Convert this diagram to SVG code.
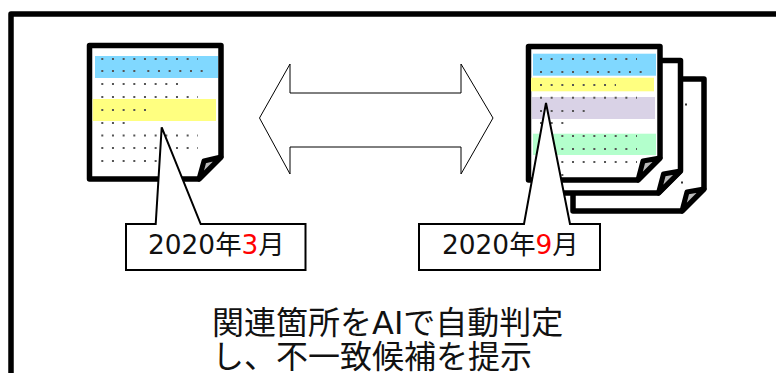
<svg xmlns="http://www.w3.org/2000/svg" width="776" height="373" viewBox="0 0 776 373">
<style>
.page{fill:#fff;stroke:#000;stroke-width:5.5;stroke-linejoin:round}
.fold{fill:#bbb;stroke:#000;stroke-width:5;stroke-linejoin:round}
.dots{stroke:#555;stroke-width:2;stroke-dasharray:2 8.67;fill:none}
.call{fill:#fff;stroke:#000;stroke-width:2;stroke-linejoin:miter}
text{font-family:"DejaVu Sans","Noto Sans CJK JP",sans-serif;fill:#111}
.lab{font-size:26.400px}
.big{font-size:32px}
.red{fill:#f00}
</style>
<rect width="776" height="373" fill="#fff"/>
<path id="frame" d="M11 373V14H776" fill="none" stroke="#000" stroke-width="5.500" stroke-linejoin="round"/>

<g id="doc-left">
<path class="page" d="M89.500 45.500H221V157L199 179H89.500Z"/>
<rect x="95" y="56" width="123" height="22" fill="#80d8ff"/>
<rect x="92.700" y="99" width="123.300" height="22" fill="#ffff80"/>
<g class="dots">
<path d="M101.300 59H198"/><path d="M101.300 71H140M147.300 71H204"/><path d="M101.300 84H178"/><path d="M101.300 97H198"/><path d="M101.300 110H148"/><path d="M101.300 123H127"/><path d="M101.300 135.500H198"/><path d="M101.300 148H198"/><path d="M101.300 161H167"/>
</g>
<path class="fold" d="M199 179L204 161L221 157Z"/>
</g>

<g id="doc-back">
<path class="page" d="M573 79H704V189L682 211H573Z"/>
<path class="fold" d="M682 211L687 192L704 189Z"/>
<path d="M685 104.500h2" stroke="#333" stroke-width="2"/>
</g>
<g id="doc-middle">
<path class="page" d="M550 60.500H680.500V171L658.500 193H550Z"/>
<path class="fold" d="M658.500 193L663.500 174L680.500 171Z"/>
<path d="M681 182.500h2" stroke="#333" stroke-width="2"/>
</g>
<g id="doc-front">
<path class="page" d="M528.500 46.500H660V158L638 180H528.500Z"/>
<rect x="533" y="53.700" width="123" height="22" fill="#80d8ff"/>
<rect x="531" y="77.700" width="123" height="13.600" fill="#ffff80"/>
<rect x="532" y="97" width="123" height="22" fill="#d9d2e6"/>
<rect x="533" y="133.700" width="123" height="21.300" fill="#b3ffcc"/>
<g class="dots">
<path d="M540 59H637"/><path d="M540 72H577M586.300 72H642"/><path d="M540 85H616"/><path d="M540 97.700H637"/><path d="M540 111H587"/><path d="M540 123H566"/><path d="M540 136H637"/><path d="M540 149H637"/><path d="M540 162H637"/><path d="M540 175H566"/>
</g>
<path class="fold" d="M638 180L643 161L660 158Z"/>
</g>

<g id="connectors">
<path d="M259.500 118L290 64V93H461V64L493 118L461 174V147H290V174Z" fill="#fff" stroke="#000" stroke-width="1"/>
</g>

<g id="callout-left">
<path class="call" d="M126 224H155.700L161.700 127.300L200.700 224H305.500V270H126Z"/>
<text class="lab" x="148" y="254">2020年<tspan class="red">3</tspan>月</text>
</g>
<g id="callout-right">
<path class="call" d="M419 224H524L546 103L570 224H600V270H419Z"/>
<text class="lab" x="442" y="254">2020年<tspan class="red">9</tspan>月</text>
</g>
<g id="note">
<text class="big" x="212" y="334">関連箇所をAIで自動判定</text>
<text class="big" x="212" y="368">し、不一致候補を提示</text>
</g>
</svg>
